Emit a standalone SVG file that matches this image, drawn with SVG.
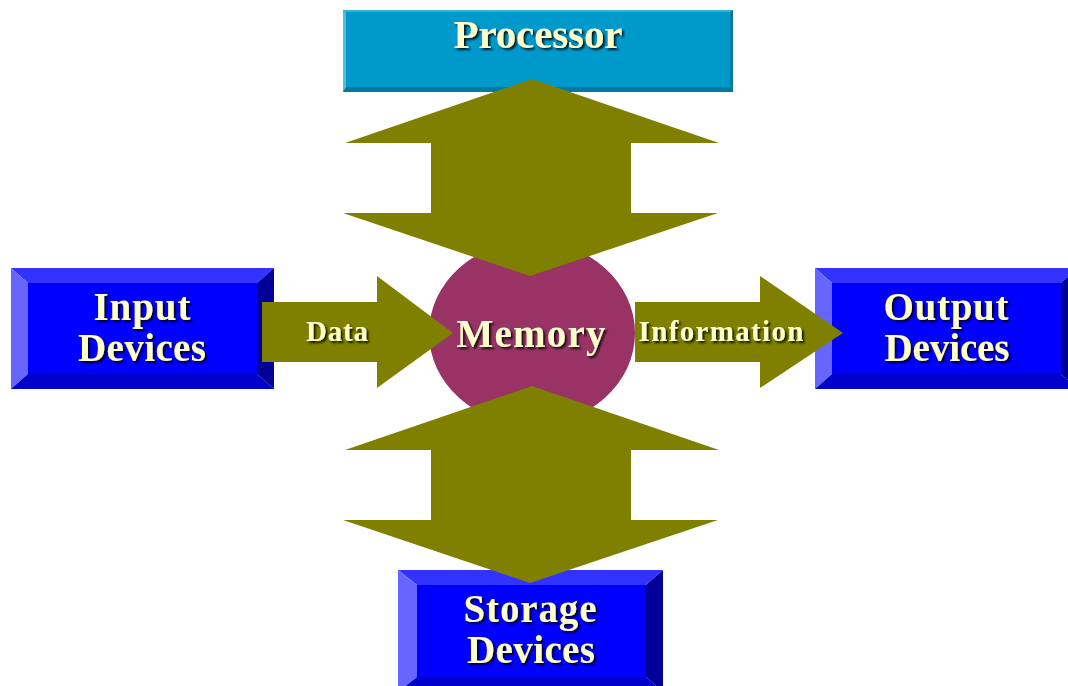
<svg xmlns="http://www.w3.org/2000/svg" width="1068" height="686" viewBox="0 0 1068 686">
  <defs>
    <filter id="shadow" x="-10%" y="-20%" width="130%" height="160%">
      <feDropShadow dx="2" dy="2" stdDeviation="0.9" flood-color="#000000" flood-opacity="0.85"/>
    </filter>
    <style>
      .lbl { font-family: "Liberation Serif", "Times New Roman", serif; font-weight: bold; fill: #FFFFCC; text-anchor: middle; filter: url(#shadow); }
      .big { font-size: 39px; }
      .small { font-size: 29px; }
      .face { fill: #0000FF; }
      .bt { fill: #3333FF; }
      .bl { fill: #6666FF; }
      .br { fill: #000099; }
      .bb { fill: #0000CC; }
      .arrow { fill: #808000; }
    </style>
  </defs>

  <rect width="1068" height="686" fill="#FFFFFF"/>

  <!-- Processor: flat cyan panel with a thin bevel -->
  <g id="processor">
    <rect x="343" y="10" width="390" height="82" fill="#007A9E"/>
    <polygon points="343,10 733,10 730,12 346,12" fill="#33B2DA"/>
    <polygon points="343,10 346,12 346,87 343,92" fill="#4DBDE0"/>
    <rect x="346" y="12" width="384" height="75" fill="#0099CC"/>
    <text class="lbl" x="538" y="48" font-size="41" textLength="169" lengthAdjust="spacing">Processor</text>
  </g>

  <!-- Input Devices -->
  <g id="input-devices">
    <polygon class="bt" points="11,268 274,268 257,283 28,283"/>
    <polygon class="bl" points="11,268 28,283 28,374 11,389"/>
    <polygon class="br" points="274,268 274,389 257,374 257,283"/>
    <polygon class="bb" points="11,389 28,374 257,374 274,389"/>
    <rect class="face" x="28" y="283" width="229" height="91"/>
    <text class="lbl big" x="142" y="320" textLength="97" lengthAdjust="spacing">Input</text>
    <text class="lbl big" x="142" y="361" textLength="128" lengthAdjust="spacing">Devices</text>
  </g>

  <!-- Output Devices (runs off the right edge) -->
  <g id="output-devices">
    <polygon class="bt" points="815,268 1078,268 1061,283 832,283"/>
    <polygon class="bl" points="815,268 832,283 832,374 815,389"/>
    <polygon class="br" points="1078,268 1078,389 1061,374 1061,283"/>
    <polygon class="bb" points="815,389 832,374 1061,374 1078,389"/>
    <rect class="face" x="832" y="283" width="229" height="91"/>
    <text class="lbl big" x="946" y="320" textLength="125" lengthAdjust="spacing">Output</text>
    <text class="lbl big" x="947" y="361" textLength="125" lengthAdjust="spacing">Devices</text>
  </g>

  <!-- Storage Devices (runs off the bottom edge) -->
  <g id="storage-devices">
    <polygon class="bt" points="398,570 663,570 646,585 417,585"/>
    <polygon class="bl" points="398,570 417,585 417,677 398,692"/>
    <polygon class="br" points="663,570 663,692 646,677 646,585"/>
    <polygon class="bb" points="398,692 417,677 646,677 663,692"/>
    <rect class="face" x="417" y="585" width="229" height="92"/>
    <text class="lbl big" x="530" y="622" textLength="133" lengthAdjust="spacing">Storage</text>
    <text class="lbl big" x="531" y="663" textLength="128" lengthAdjust="spacing">Devices</text>
  </g>

  <!-- Memory -->
  <g id="memory">
    <ellipse cx="532" cy="333" rx="103" ry="92" fill="#993366"/>
    <text class="lbl big" x="531" y="347" textLength="149" lengthAdjust="spacing">Memory</text>
  </g>

  <!-- Connectors -->
  <g id="connectors">
    <!-- Processor <-> Memory -->
    <polygon class="arrow" points="532,79 719,143 631,143 631,213 718,213 530,276 343,213 431,213 431,143 345,143"/>
    <!-- Memory <-> Storage -->
    <polygon class="arrow" points="532,386 719,450 631,450 631,520 718,520 530,583 343,520 431,520 431,450 345,450"/>
    <!-- Input -> Memory -->
    <polygon class="arrow" points="262,302 377,302 377,276 453,333 377,388 377,362 262,362"/>
    <text class="lbl small" x="337" y="341" textLength="62" lengthAdjust="spacing">Data</text>
    <!-- Memory -> Output -->
    <polygon class="arrow" points="635,302 760,302 760,276 843,333 760,388 760,362 635,362"/>
    <text class="lbl small" x="721" y="341" textLength="165" lengthAdjust="spacing">Information</text>
  </g>
</svg>
